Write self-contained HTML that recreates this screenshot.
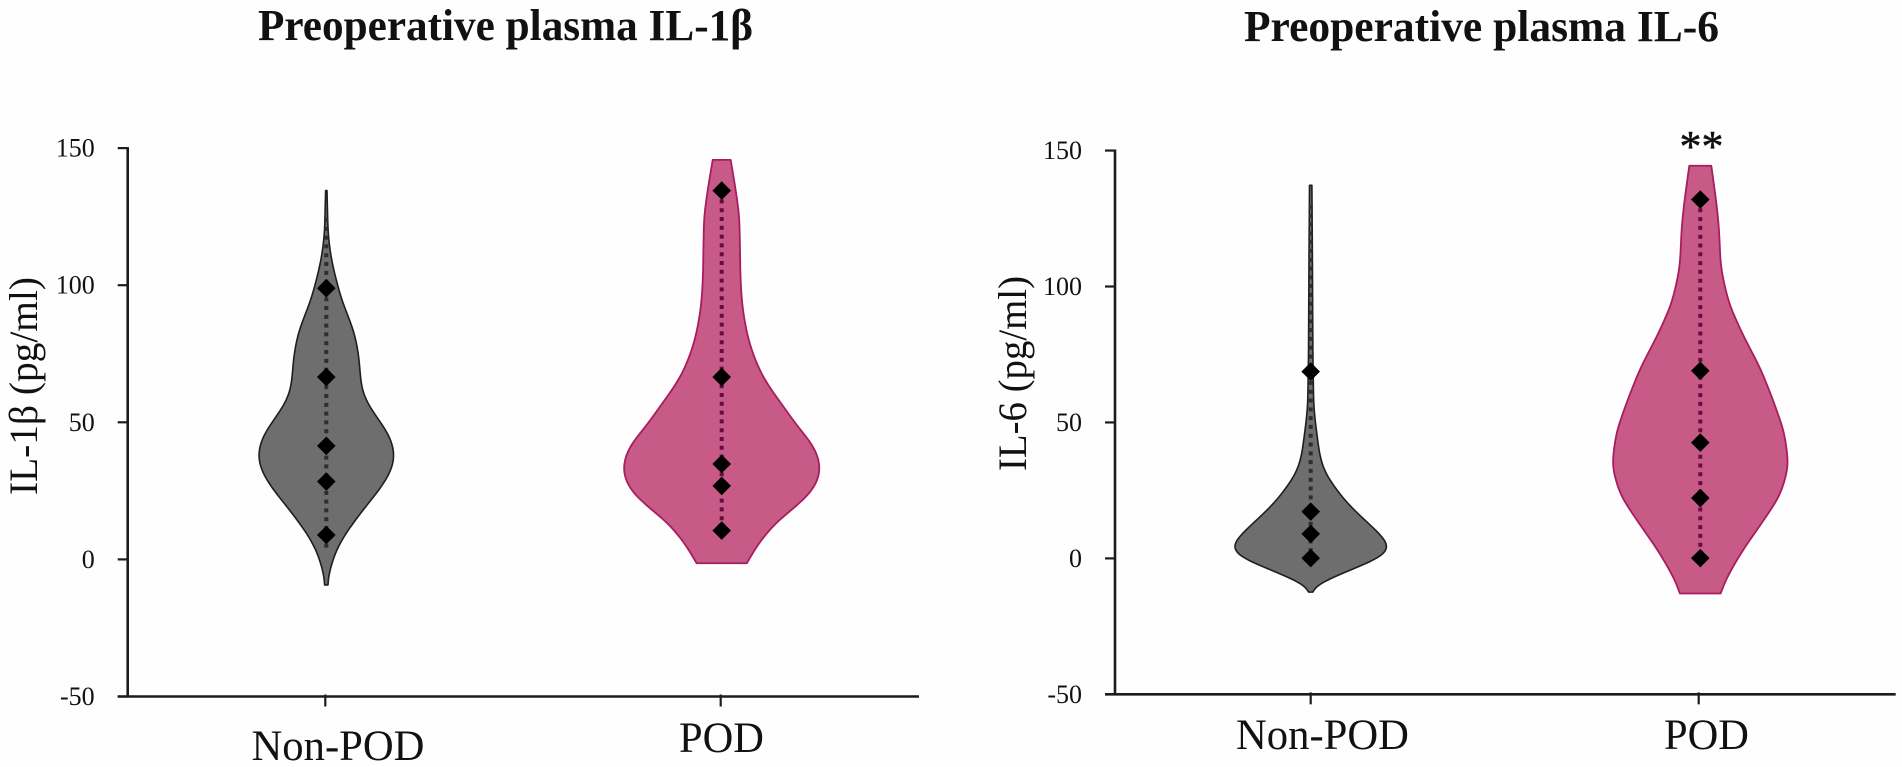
<!DOCTYPE html>
<html lang="en">
<head>
<meta charset="utf-8">
<title>Preoperative plasma IL-1β and IL-6</title>
<style>
  html, body { margin: 0; padding: 0; background: #fefefe; }
  body { width: 1902px; height: 767px; overflow: hidden; }
  svg { display: block; font-family: "Liberation Serif", "Times New Roman", serif; fill: #111; }
</style>
</head>
<body>
<svg id="figure" width="1902" height="767" viewBox="0 0 1902 767" xmlns="http://www.w3.org/2000/svg">
  <text x="258" y="40" font-size="44" font-weight="bold" textLength="495" lengthAdjust="spacingAndGlyphs">Preoperative plasma IL-1β</text>
  <text x="1244" y="41" font-size="44" font-weight="bold" textLength="475" lengthAdjust="spacingAndGlyphs">Preoperative plasma IL-6</text>
  <text transform="translate(37 495) rotate(-90)" font-size="40" textLength="218" lengthAdjust="spacingAndGlyphs">IL-1β (pg/ml)</text>
  <text transform="translate(1026 471) rotate(-90)" font-size="40" textLength="195" lengthAdjust="spacingAndGlyphs">IL-6 (pg/ml)</text>
  <text x="1701.5" y="161" font-size="44" text-anchor="middle" stroke="#111" stroke-width="0.5">**</text>
</svg>
<script>
// ---- Shared axis data ----
const yTickValues = [150, 100, 50, 0, -50];
const categories = ['Non-POD', 'POD'];

// ---- IL-1β, Non-POD ----
const il1bNonPodLevels  = [134.5, 119, 111.7, 105.6, 99.5, 94.6, 88.6, 82.5, 74, 66.7, 60.6, 54.5, 49.7, 44.8, 39.9, 36.3, 31.4, 25.4, 19.3, 13.2, 7.1, 1, -5, -9.3];
const il1bNonPodDensity = [0.007, 0.017, 0.04, 0.073, 0.117, 0.153, 0.22, 0.283, 0.327, 0.34, 0.36, 0.45, 0.55, 0.64, 0.68, 0.685, 0.64, 0.533, 0.393, 0.267, 0.15, 0.073, 0.027, 0.017];
const il1bNonPodMarkers = [98.9, 66.5, 41.4, 28.4, 8.9];
const il1bNonPodRange   = [124.5, 2.8];

// ---- IL-1β, POD ----
const il1bPodLevels  = [145.7, 134.8, 125, 112.9, 103.1, 94.6, 88.6, 80, 75.2, 67.9, 61.5, 55.7, 49.5, 43.6, 38.8, 31.5, 24.2, 17.5, 13.3, 6.5, -1.4];
const il1bPodDensity = [0.09, 0.14, 0.177, 0.183, 0.187, 0.2, 0.22, 0.267, 0.31, 0.39, 0.5, 0.62, 0.735, 0.875, 0.96, 0.995, 0.9, 0.68, 0.533, 0.38, 0.25];
const il1bPodMarkers = [134.5, 66.5, 34.8, 26.8, 10.5];
const il1bPodRange   = [134.5, 10.5];

// ---- IL-6, Non-POD ----
const il6NonPodLevels  = [137.2, 111, 74.2, 55.8, 49.7, 43.6, 37.5, 31.4, 25.3, 19.1, 14.2, 8, 3.1, 0.1, -3.6, -7.9, -10.4, -12.4];
const il6NonPodDensity = [0.012, 0.017, 0.022, 0.03, 0.047, 0.07, 0.09, 0.14, 0.257, 0.39, 0.54, 0.72, 0.84, 0.74, 0.42, 0.14, 0.057, 0.02];
const il6NonPodMarkers = [68.7, 17.2, 9, 0.1];
const il6NonPodRange   = [130, 0.1];

// ---- IL-6, POD ----
const il6PodLevels  = [144.4, 131.1, 121.7, 107.6, 101.3, 93.6, 82.6, 70, 59, 46.5, 34, 23.1, 12.2, 2.8, -6.6, -12.9];
const il6PodDensity = [0.11, 0.16, 0.187, 0.203, 0.237, 0.287, 0.42, 0.6, 0.72, 0.84, 0.885, 0.8, 0.6, 0.42, 0.27, 0.203];
const il6PodMarkers = [132, 69, 42.6, 22.2, 0.1];
const il6PodRange   = [132, 0.1];

// ---- Rendering ----
const svg = document.getElementById('figure');
const NS = 'http://www.w3.org/2000/svg';

function make(tag, parent, props) {
  const el = document.createElementNS(NS, tag);
  for (const k in props) el.setAttribute(k, props[k]);
  parent.appendChild(el);
  return el;
}

// Densify the outline one pixel at a time, then gaussian-smooth the widths so
// the read-off points become a KDE-like smooth curve.
function smoothOutline(levels, density, yScale, widthScale) {
  const yTop = yScale(levels[0]);
  const yBottom = yScale(levels[levels.length - 1]);
  const ys = [];
  const raw = [];
  let seg = 0;
  for (let y = yTop; y < yBottom; y += 1) {
    while (seg < levels.length - 2 && yScale(levels[seg + 1]) < y) seg++;
    const y1 = yScale(levels[seg]);
    const y2 = yScale(levels[seg + 1]);
    const t = (y - y1) / (y2 - y1);
    ys.push(y);
    raw.push(widthScale(density[seg] + (density[seg + 1] - density[seg]) * t));
  }
  ys.push(yBottom);
  raw.push(widthScale(density[density.length - 1]));

  const sigma = 9;
  const reach = 24;
  const out = raw.map((_, i) => {
    const r = Math.min(reach, i, raw.length - 1 - i);
    let sum = 0;
    let weight = 0;
    for (let k = -r; k <= r; k++) {
      const g = Math.exp(-(k * k) / (2 * sigma * sigma));
      sum += raw[i + k] * g;
      weight += g;
    }
    return sum / weight;
  });
  return ys.map((y, i) => [out[i], y]);
}

function drawPanel(panel) {
  const group = make('g', svg, {});
  
  

  const yScale = v => panel.y0 - v * panel.pxPerUnit;
  const bottom = yScale(yTickValues[yTickValues.length - 1]);
  const top = yScale(yTickValues[0]);

  const yAxis = make('line', group, { x1: panel.axisX, x2: panel.axisX, y1: top - 1, y2: bottom + 1, stroke: '#1c1c1c', 'stroke-width': 2.6 });
  
  

  const xAxis = make('line', group, { x1: panel.axisX - 10, x2: panel.right, y1: bottom, y2: bottom, stroke: '#1c1c1c', 'stroke-width': 2.6 });
  
  

  yTickValues.forEach(v => {
    const tick = make('line', group, { x1: panel.axisX - 10, x2: panel.axisX, y1: yScale(v), y2: yScale(v), stroke: '#1c1c1c', 'stroke-width': 2.2 });
    
    
    const label = make('text', group, { x: panel.axisX - 33, y: yScale(v) + 8.5, 'font-size': 26, 'text-anchor': 'end' });
    label.textContent = String(v);
    
    
  });

  categories.forEach((c, i) => {
    const x = panel.catX[i];
    const tick = make('line', group, { x1: x, x2: x, y1: bottom - 2, y2: bottom + 10, stroke: '#1c1c1c', 'stroke-width': 2.2 });
    
    
    const label = make('text', group, { x: panel.labelX[i], y: panel.labelY[i], 'font-size': 43, textLength: panel.labelW[i], lengthAdjust: 'spacingAndGlyphs' });
    label.textContent = c;
    
    
  });

  panel.series.forEach(s => {
    const cx = s.center;
    const outline = smoothOutline(s.levels, s.density, yScale, d => d * panel.pxPerDensity);
    const right = outline.map(p => (cx + p[0]).toFixed(2) + ' ' + p[1].toFixed(2));
    const left = outline.slice().reverse().map(p => (cx - p[0]).toFixed(2) + ' ' + p[1].toFixed(2));

    const g = make('g', group, {});
    
    

    const d = 'M' + right.concat(left).join(' L') + ' Z';
    const body = make('path', g, { d: d, fill: s.fill, stroke: s.stroke, 'stroke-width': s.strokeWidth, 'stroke-linejoin': 'round' });
    
    

    const range = make('line', g, { x1: cx, x2: cx, y1: yScale(s.range[0]), y2: yScale(s.range[1]), stroke: s.dot, 'stroke-width': 4, 'stroke-dasharray': '4 4.8' });
    
    

    s.markers.forEach(v => {
      const y = yScale(v);
      const h = 9.3;
      const mark = make('polygon', g, { points: cx + ',' + (y - h) + ' ' + (cx + h) + ',' + y + ' ' + cx + ',' + (y + h) + ' ' + (cx - h) + ',' + y, fill: '#000' });
      
      
    });
  });
}

const GREY = { fill: '#6e6e6e', stroke: '#1e1e1e', dot: '#2e2e2e', strokeWidth: 1.6 };
const PINK = { fill: '#c85a87', stroke: '#a81c60', dot: '#650d42', strokeWidth: 1.8 };

drawPanel({
  name: 'il1b', axisX: 127.7, right: 919, y0: 559.4, pxPerUnit: 2.742, pxPerDensity: 100,
  catX: [325.3, 720.7], labelX: [251.5, 679], labelY: [760, 752], labelW: [173, 85],
  series: [
    Object.assign({ name: 'il1b-non-pod', center: 326.3, levels: il1bNonPodLevels, density: il1bNonPodDensity, markers: il1bNonPodMarkers, range: il1bNonPodRange }, GREY),
    Object.assign({ name: 'il1b-pod', center: 721.7, levels: il1bPodLevels, density: il1bPodDensity, markers: il1bPodMarkers, range: il1bPodRange }, PINK)
  ]
});

drawPanel({
  name: 'il6', axisX: 1115, right: 1895.7, y0: 558.4, pxPerUnit: 2.719, pxPerDensity: 100,
  catX: [1310.7, 1698.7], labelX: [1236, 1664], labelY: [749, 749], labelW: [173, 85],
  series: [
    Object.assign({ name: 'il6-non-pod', center: 1310.7, levels: il6NonPodLevels, density: il6NonPodDensity, markers: il6NonPodMarkers, range: il6NonPodRange }, GREY),
    Object.assign({ name: 'il6-pod', center: 1700.3, levels: il6PodLevels, density: il6PodDensity, markers: il6PodMarkers, range: il6PodRange }, PINK)
  ]
});
</script>
</body>
</html>
